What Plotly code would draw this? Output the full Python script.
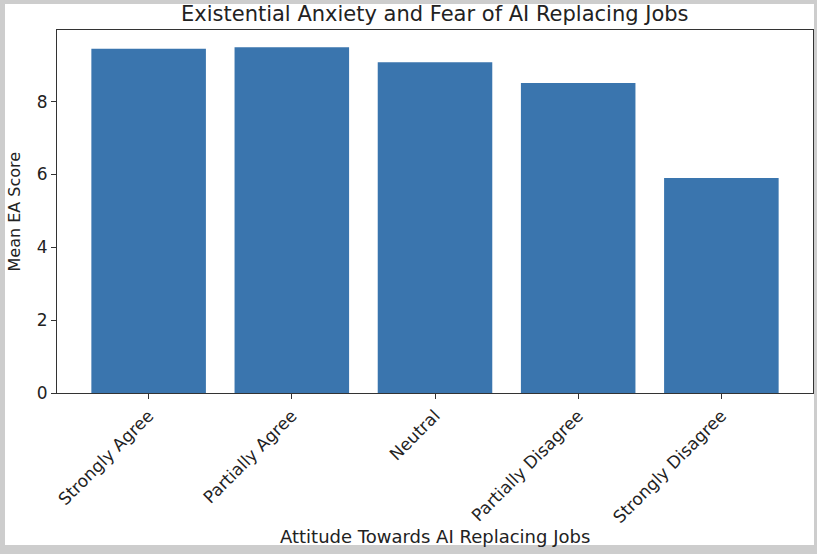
import plotly.graph_objects as go

categories = ["Strongly Agree", "Partially Agree", "Neutral", "Partially Disagree", "Strongly Disagree"]
mean_ea = [9.45, 9.49, 9.08, 8.51, 5.90]
y_ticks = [0, 2, 4, 6, 8]

W, H = 817, 554
L, R, T, B = 57, 4, 30, 161
pw, ph = W - L - R, H - T - B

fig = go.Figure(go.Bar(
    x=list(range(len(categories))), y=mean_ea, width=0.8,
    marker=dict(color="#3a75ae", line=dict(width=0)),
))

font_fam = "DejaVu Sans, sans-serif"
fig.update_layout(
    width=W, height=H,
    margin=dict(l=L, r=R, t=T, b=B, autoexpand=False),
    paper_bgcolor="#cdcdcd", plot_bgcolor="white",
    font=dict(family=font_fam, color="#222", size=17),
    showlegend=False,
    bargap=0.2,
    shapes=[dict(type="rect", xref="paper", yref="paper", layer="below",
                 x0=(5 - L) / pw, x1=(814 - L) / pw,
                 y0=(H - 545 - B) / ph, y1=(H - 4 - B) / ph,
                 fillcolor="white", line=dict(width=0))],
    annotations=[
        dict(text="Existential Anxiety and Fear of AI Replacing Jobs", xref="paper", yref="paper",
             x=0.5, y=(H - 14 - B) / ph, showarrow=False, font=dict(size=21, family=font_fam, color="#222"),
             xanchor="center", yanchor="middle"),
        dict(text="Attitude Towards AI Replacing Jobs", xref="paper", yref="paper",
             x=0.5, y=(H - 536 - B) / ph, showarrow=False, font=dict(size=18, family=font_fam, color="#222"),
             xanchor="center", yanchor="middle"),
        dict(text="Mean EA Score", xref="paper", yref="paper", textangle=-90,
             x=(14 - L) / pw, y=0.5, showarrow=False, font=dict(size=16, family=font_fam, color="#222"),
             xanchor="center", yanchor="middle"),
    ],
)
fig.update_xaxes(
    range=[-0.64, 4.64], tickmode="array", tickvals=list(range(len(categories))), ticktext=categories,
    tickangle=-45, ticks="outside", ticklen=5, tickcolor="#333", showline=True, linecolor="#333",
    linewidth=1.2, mirror=True, showgrid=False, zeroline=False, tickfont=dict(size=17), automargin=False,
)
fig.update_yaxes(
    range=[0, 9.965], tickmode="array", tickvals=y_ticks, ticks="outside", ticklen=5, tickcolor="#333",
    showline=True, linecolor="#333", linewidth=1.2, mirror=True, showgrid=False, zeroline=False,
    tickfont=dict(size=17), automargin=False,
)
fig.write_html("out.html", config={"displayModeBar": False},
               post_script="document.body.style.margin='0';document.body.style.padding='0';")
